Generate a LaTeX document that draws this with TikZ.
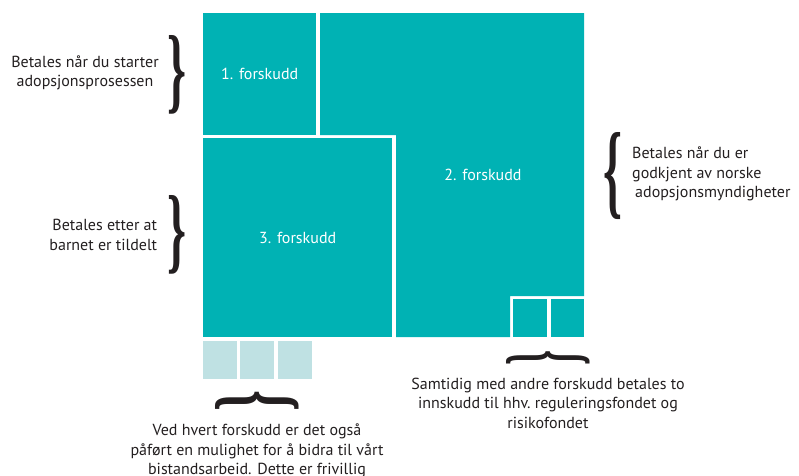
\documentclass[tikz,border=0pt]{standalone}
\usepackage{fontspec}
\usepackage{graphicx}
\setmainfont{PT Sans}
\newfontfamily\bracefont{Liberation Serif}
\usetikzlibrary{positioning}
\definecolor{tealbox}{RGB}{0,178,180}
\definecolor{paleteal}{RGB}{191,225,227}
\definecolor{ink}{RGB}{35,31,32}
\newcommand{\bigbrace}[2]{\resizebox{#1}{#2}{\bracefont\bfseries\}}}
\tikzset{
  box/.style={fill=tealbox,inner sep=0pt,anchor=north west,text=white,font=\fontsize{16}{19}\selectfont},
  note/.style={text=ink,inner sep=0pt,font=\fontsize{16}{19.5}\selectfont},
  brace/.style={text=ink,inner sep=0pt},
}
\begin{document}
\begin{tikzpicture}[x=1pt,y=-1pt]
  \useasboundingbox (0,0) rectangle (799,475);
  \clip (0,0) rectangle (799,475);

  \node [box,minimum width=113pt,minimum height=122pt] (f1) at (203,13) {1. forskudd};
  \node [box,minimum width=189pt,minimum height=199pt] (f3) at (203,138) {3. forskudd};
  \fill [tealbox] (320,13) -- (584,13) -- (584,296) -- (510,296) -- (510,337)
    -- (396,337) -- (396,135) -- (320,135) -- cycle;
  \node [text=white,font=\fontsize{16}{19}\selectfont] (f2) at (483,175) {2. forskudd};

  \node [box,minimum width=34pt,minimum height=38pt] (r1) at (513,299) {};
  \node [box,minimum width=33pt,minimum height=38pt] (r2) at (551,299) {};

  \node [box,fill=paleteal,minimum width=34pt,minimum height=38pt] (b1) at (203,341) {};
  \node [box,fill=paleteal,minimum width=34pt,minimum height=38pt] (b2) at (240,341) {};
  \node [box,fill=paleteal,minimum width=34pt,minimum height=38pt] (b3) at (278,341) {};

  \node [brace] (br1) at (177,75) {\bigbrace{19pt}{66pt}};
  \node [note,align=center] (t1) at (85,73) {Betales når du starter\\adopsjonsprosessen};

  \node [brace] (br3) at (177,235) {\bigbrace{19pt}{66pt}};
  \node [note,align=right,left=10pt of br3] (t3) {Betales etter at\\barnet er tildelt};

  \node [brace,xscale=-1] (br2) at (613,176) {\bigbrace{19pt}{73pt}};
  \node [note,align=left,anchor=west] (t2) at (632,174) {Betales når du er\\godkjent av norske\\\hspace{3pt}adopsjonsmyndigheter};

  \node [brace,rotate=90] (br4) at (548,358) {\bigbrace{15pt}{70pt}};
  \node [note,align=center] (t4) at (548,403) {Samtidig med andre forskudd betales to\\innskudd til hhv.\ reguleringsfondet og\\risikofondet};

  \node [brace,rotate=90] (br5) at (257,401) {\bigbrace{21pt}{70pt}};
  \node [note,align=center] (t5) at (257,451) {Ved hvert forskudd er det også\\påført en mulighet for å bidra til vårt\\bistandsarbeid. Dette er frivillig};
\end{tikzpicture}
\end{document}
